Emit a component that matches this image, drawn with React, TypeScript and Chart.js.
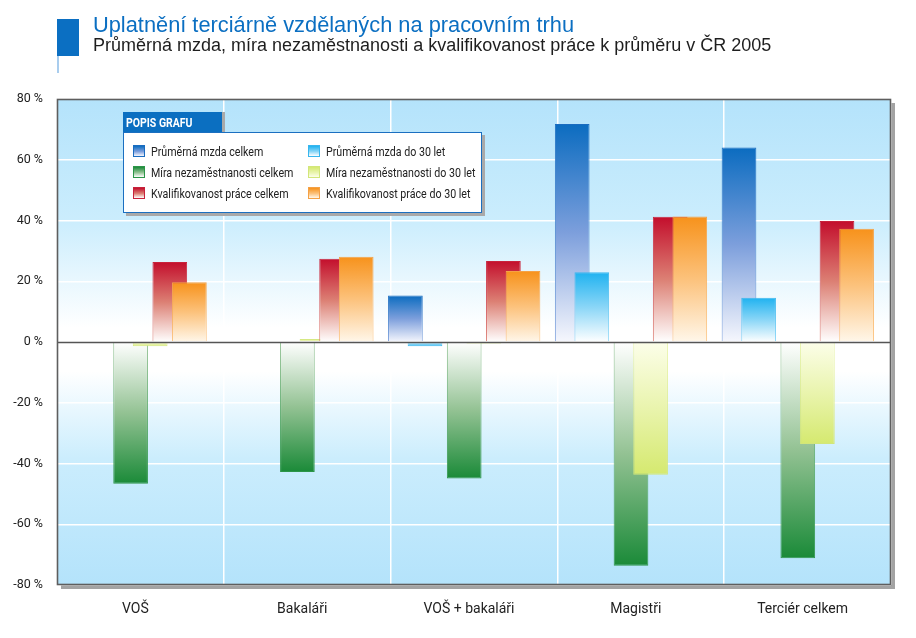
import React, { useEffect, useRef } from 'react';
import { Chart, registerables } from 'chart.js';
Chart.register(...registerables);

// ---- data ----
const categories = ['VOŠ', 'Bakaláři', 'VOŠ + bakaláři', 'Magistři', 'Terciér celkem'];
const mzdaCelkem: (number | null)[] = [null, null, 15.3, 71.8, 64.0];
const mzdaDo30: (number | null)[] = [null, null, -1.4, 23.0, 14.6];
const nezamCelkem: (number | null)[] = [-46.7, -42.8, -44.9, -73.7, -71.2];
const nezamDo30: (number | null)[] = [-1.4, 1.0, -0.5, -43.7, -33.6];
const kvalifCelkem: (number | null)[] = [26.3, 27.4, 26.7, 41.2, 39.8];
const kvalifDo30: (number | null)[] = [19.7, 28.1, 23.4, 41.3, 37.3];
const yMin = -80;
const yMax = 80;
const yStep = 20;

const titleText = 'Uplatnění terciárně vzdělaných na pracovním trhu';
const subtitleText = 'Průměrná mzda, míra nezaměstnanosti a kvalifikovanost práce k průměru v ČR 2005';
const legendTitle = 'POPIS GRAFU';

// ---- styles ----
type Series = { label: string; data: (number | null)[]; end: string; mid: string; base: string; border: string };
const series: Series[] = [
  { label: 'Průměrná mzda celkem', data: mzdaCelkem, end: '#0b6cc0', mid: '#7d9fdc', base: '#f6f7fd', border: '#1a6cc0' },
  { label: 'Průměrná mzda do 30 let', data: mzdaDo30, end: '#1fb2f0', mid: '#8ad6f7', base: '#ffffff', border: '#38b6ee' },
  { label: 'Míra nezaměstnanosti celkem', data: nezamCelkem, end: '#1a8a38', mid: '#93c293', base: '#ffffff', border: '#2c9548' },
  { label: 'Míra nezaměstnanosti do 30 let', data: nezamDo30, end: '#d5e96f', mid: '#e9f4ad', base: '#fcfee9', border: '#d2e67a' },
  { label: 'Kvalifikovanost práce celkem', data: kvalifCelkem, end: '#c30e2c', mid: '#dc8074', base: '#ffffff', border: '#c7223b' },
  { label: 'Kvalifikovanost práce do 30 let', data: kvalifDo30, end: '#f7921b', mid: '#fcc27c', base: '#fff7ea', border: '#f4a146' },
];
// slot layout: blue, light blue, gap, green, yellow, red, orange, gap
const slotOrder: (number | 'gap')[] = [0, 1, 'gap', 2, 3, 4, 5, 'gap'];

const NARROW = "Roboto, 'Liberation Sans', sans-serif";
const SANS = "'Liberation Sans', Arial, sans-serif";

function gradientFor(s: Series, kind: 'fill' | 'border') {
  return (c: any) => {
    const chart = c.chart;
    const v = c.parsed ? c.parsed.y : undefined;
    if (c.type !== 'data' || v == null || !chart.chartArea) return s.end;
    const ys = chart.scales.y;
    const y0 = ys.getPixelForValue(0);
    const y1 = ys.getPixelForValue(v);
    if (Math.abs(y1 - y0) < 0.5) return s.mid;
    const g = chart.ctx.createLinearGradient(0, y1, 0, y0);
    if (kind === 'fill') {
      g.addColorStop(0, s.end);
      g.addColorStop(0.5, s.mid);
      g.addColorStop(1, s.base);
    } else {
      g.addColorStop(0, s.border);
      g.addColorStop(1, s.mid);
    }
    return g;
  };
}

const bgPlugin = {
  id: 'plotBg',
  beforeDraw(chart: any) {
    const { ctx, chartArea: a } = chart;
    ctx.save();
    ctx.fillStyle = '#a3a3a3';
    ctx.fillRect(a.left + 4, a.top + 4, a.right - a.left, a.bottom - a.top);
    const g = ctx.createLinearGradient(0, a.top, 0, a.bottom);
    g.addColorStop(0, '#b4e3fb');
    g.addColorStop(0.25, '#cbedfd');
    g.addColorStop(0.47, '#ffffff');
    g.addColorStop(0.56, '#ffffff');
    g.addColorStop(0.74, '#cbedfd');
    g.addColorStop(1, '#b4e3fb');
    ctx.fillStyle = g;
    ctx.fillRect(a.left, a.top, a.right - a.left, a.bottom - a.top);
    ctx.restore();
  },
  beforeDatasetsDraw(chart: any) {
    // draw in dataset order so later series sit on top
    const n = chart.data.datasets.length;
    const ctx = chart.ctx;
    const a = chart.chartArea;
    ctx.save();
    ctx.beginPath();
    ctx.rect(a.left, a.top, a.right - a.left, a.bottom - a.top);
    ctx.clip();
    for (let i = 0; i < n; i++) {
      const meta = chart.getDatasetMeta(i);
      if (meta && meta.controller && chart.isDatasetVisible(i)) meta.controller.draw();
    }
    ctx.restore();
    return false;
  },
  afterDraw(chart: any) {
    const { ctx, chartArea: a, scales } = chart;
    ctx.save();
    const y0 = Math.round(scales.y.getPixelForValue(0)) + 0.5;
    ctx.strokeStyle = '#555555';
    ctx.lineWidth = 1.5;
    ctx.beginPath();
    ctx.moveTo(a.left, y0);
    ctx.lineTo(a.right, y0);
    ctx.stroke();
    ctx.strokeStyle = '#5e5e5e';
    ctx.lineWidth = 1.6;
    ctx.strokeRect(a.left + 0.5, a.top + 0.5, a.right - a.left - 1, a.bottom - a.top - 1);
    ctx.restore();
  },
};

function buildDatasets() {
  return slotOrder.map((slot) => {
    if (slot === 'gap') {
      return { label: '', data: categories.map(() => null), backgroundColor: 'rgba(0,0,0,0)', borderWidth: 0, categoryPercentage: 0.94, barPercentage: 1.77 };
    }
    const s = series[slot];
    return {
      label: s.label,
      data: s.data,
      backgroundColor: gradientFor(s, 'fill'),
      borderColor: gradientFor(s, 'border'),
      borderWidth: 1,
      categoryPercentage: 0.94,
      barPercentage: 1.77,
    };
  });
}

const narrowText = (scale: number): React.CSSProperties => ({
  display: 'inline-block',
  transform: `scaleX(${scale})`,
  transformOrigin: 'left center',
  whiteSpace: 'nowrap',
});

function Legend() {
  return (
    <div style={{ position: 'absolute', left: 123, top: 112, width: 362, height: 104 }}>
      <div
        style={{
          position: 'absolute', left: 0, top: 0, width: 99, height: 21, background: '#0b6fc1',
          boxShadow: '3px 0 0 #a9a9a9', color: '#fff', fontFamily: NARROW, fontWeight: 'bold', fontSize: 12.5,
          lineHeight: '21px', paddingLeft: 3, boxSizing: 'border-box',
        }}
      >
        <span style={narrowText(0.84)}>{legendTitle}</span>
      </div>
      <div
        style={{
          position: 'absolute', left: 0, top: 20, width: 359, height: 81, background: '#fff',
          border: '1px solid #1b6fc0', boxSizing: 'border-box', boxShadow: '3px 3px 0 #a9a9a9',
        }}
      >
        {series.map((s, i) => {
          const col = i % 2;
          const row = Math.floor(i / 2);
          return (
            <div key={i} style={{ position: 'absolute', left: col === 0 ? 9 : 184, top: 11 + row * 21, height: 14, display: 'flex', alignItems: 'center' }}>
              <div style={{ width: 12, height: 12, flex: '0 0 12px', boxSizing: 'border-box', border: `1px solid ${s.border}`, background: `linear-gradient(to bottom, ${s.end}, ${s.mid} 55%, ${s.base})` }} />
              <span style={{ marginLeft: 6, fontFamily: NARROW, fontSize: 13, color: '#222', ...narrowText(0.82) }}>{s.label}</span>
            </div>
          );
        })}
      </div>
    </div>
  );
}

export default function App() {
  const ref = useRef<HTMLCanvasElement | null>(null);
  useEffect(() => {
    document.body.style.margin = '0';
    const canvas = ref.current!;
    const chart = new Chart(canvas, {
      type: 'bar',
      data: { labels: categories, datasets: buildDatasets() as any },
      plugins: [bgPlugin as any],
      options: {
        animation: false,
        responsive: false,
        devicePixelRatio: 1,
        layout: { padding: { left: 0, right: 25, top: 99, bottom: 0 } },
        plugins: { legend: { display: false }, title: { display: false }, tooltip: { enabled: false } },
        scales: {
          x: {
            offset: true,
            grid: { color: '#ffffff', lineWidth: 1.5, drawTicks: false, offset: true },
            border: { display: false },
            ticks: { font: { family: NARROW, size: 14 }, color: '#222', padding: 16, labelOffset: -5, maxRotation: 0, autoSkip: false },
            afterFit: (s: any) => { s.height = 53; },
          },
          y: {
            min: yMin,
            max: yMax,
            grid: { color: '#ffffff', lineWidth: 1.5, drawTicks: false },
            border: { display: false },
            ticks: { stepSize: yStep, font: { family: NARROW, size: 12.5 }, color: '#222', padding: 14, callback: (v: any) => `${v} %` },
            afterFit: (s: any) => { s.width = 57; },
          },
        },
      } as any,
    });
    return () => chart.destroy();
  }, []);

  return (
    <div style={{ position: 'relative', width: 916, height: 638, background: '#fff', overflow: 'hidden' }}>
      <canvas ref={ref} width={916} height={638} style={{ position: 'absolute', left: 0, top: 0, width: 916, height: 638 }} />
      <div style={{ position: 'absolute', left: 57, top: 19, width: 22, height: 37, background: '#0b6fc2' }} />
      <div style={{ position: 'absolute', left: 57, top: 56, width: 2, height: 17, background: '#a9cdee' }} />
      <div style={{ position: 'absolute', left: 93, top: 14, fontFamily: SANS, fontSize: 21.8, lineHeight: '22px', color: '#0b6fc2', whiteSpace: 'nowrap' }}>{titleText}</div>
      <div style={{ position: 'absolute', left: 93, top: 36, fontFamily: SANS, fontSize: 18, lineHeight: '18px', color: '#1e1e1e', whiteSpace: 'nowrap' }}>{subtitleText}</div>
      <Legend />
    </div>
  );
}
